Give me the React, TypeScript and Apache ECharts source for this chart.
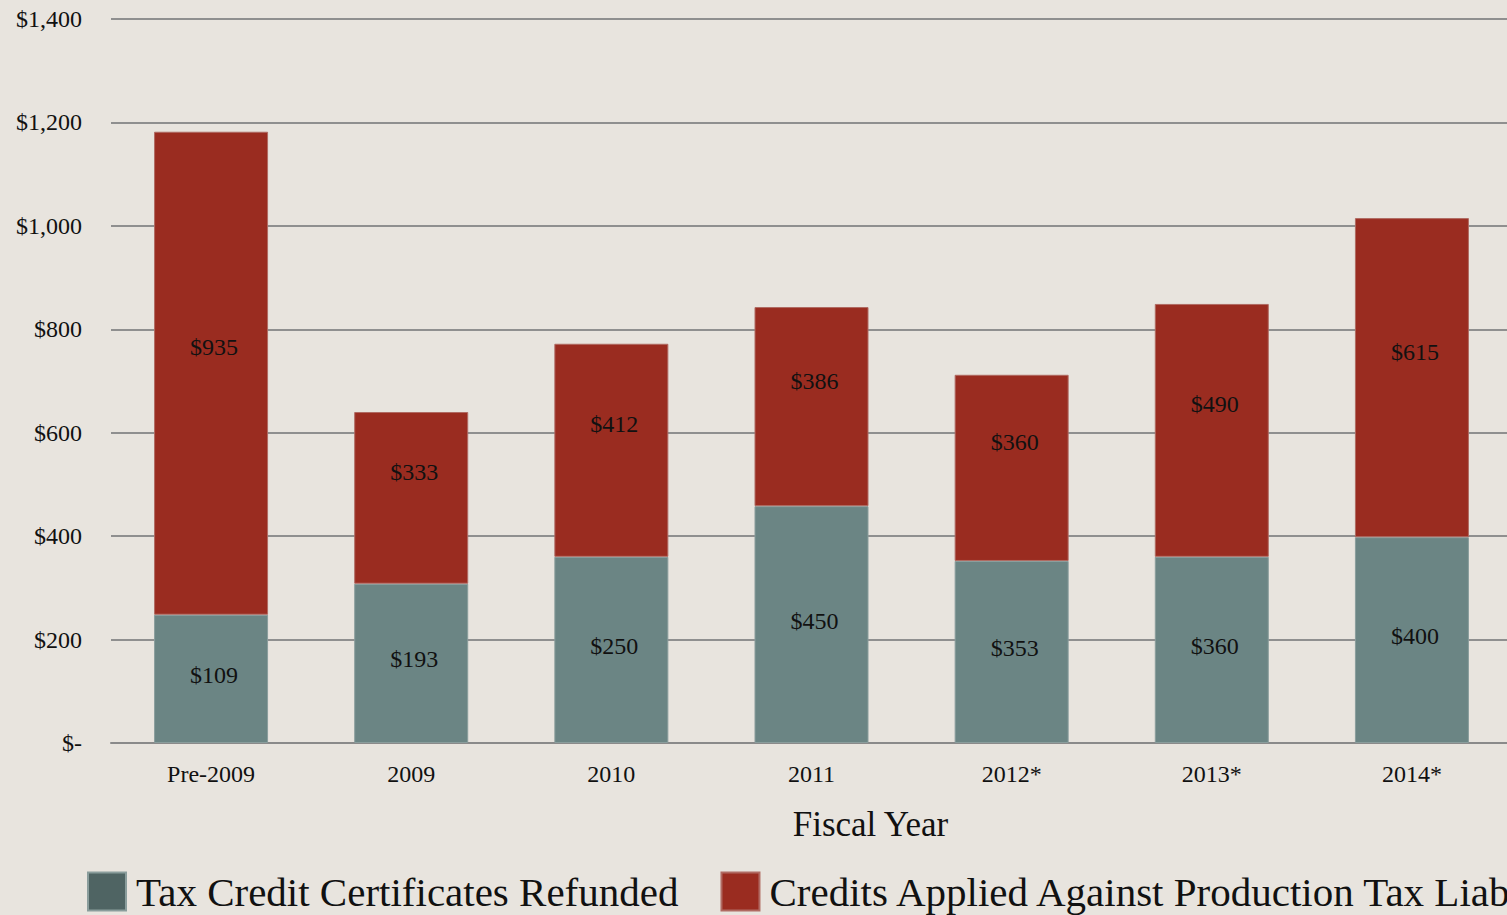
import React, { useEffect, useRef } from "react";
import * as echarts from "echarts";

const categories = ["Pre-2009", "2009", "2010", "2011", "2012*", "2013*", "2014*"];
// bar heights as drawn in the picture (millions $)
const refundedHeights = [248, 308, 360, 458, 352, 360, 398];
const appliedHeights = [934, 332, 412, 385, 360, 489, 617];
// printed labels
const refundedLabels = [109, 193, 250, 450, 353, 360, 400];
const appliedLabels = [935, 333, 412, 386, 360, 490, 615];
const yTicks = [0, 200, 400, 600, 800, 1000, 1200, 1400];

const FONT = "'Liberation Serif', 'DejaVu Serif', serif";
const TEAL = "#6b8584";
const TEAL_LEGEND = "#4f6463";
const RED = "#9a2c20";

function fmtMoney(v: number) {
  if (v === 0) return "$-";
  return "$" + v.toLocaleString("en-US");
}

export default function App() {
  const ref = useRef<HTMLDivElement>(null);
  useEffect(() => {
    if (!ref.current) return;
    const chart = echarts.init(ref.current, undefined, { renderer: "svg" });
    chart.setOption({
      animation: false,
      backgroundColor: "#e8e4de",
      textStyle: { fontFamily: FONT },
      grid: { left: 111, top: 19, width: 1401, height: 724 },
      legend: {
        left: 87,
        top: 871,
        width: 3000,
        padding: 0,
        itemWidth: 38,
        itemHeight: 38,
        itemGap: 42,
        icon: "rect",
        textStyle: { fontFamily: FONT, fontSize: 41, color: "#111", padding: [0, 0, 0, 5] },
        data: [
          { name: "Tax Credit Certificates Refunded", itemStyle: { color: TEAL_LEGEND } },
          { name: "Credits Applied Against Production Tax Liability", itemStyle: { color: RED } },
        ],
      },
      xAxis: {
        type: "category",
        data: categories,
        name: "Fiscal Year",
        nameLocation: "middle",
        nameGap: 64,
        nameTextStyle: { fontFamily: FONT, fontSize: 35, color: "#111", padding: [0, 0, 0, 118] },
        axisLine: { lineStyle: { color: "#8a8a8a", width: 2 } },
        axisTick: { show: false },
        axisLabel: { fontFamily: FONT, fontSize: 24, color: "#111", margin: 19 },
      },
      yAxis: {
        type: "value",
        min: yTicks[0],
        max: yTicks[yTicks.length - 1],
        interval: 200,
        axisLine: { show: false },
        axisTick: { show: false },
        splitLine: { lineStyle: { color: "#8f8f8f", width: 2 } },
        axisLabel: {
          fontFamily: FONT,
          fontSize: 24,
          color: "#111",
          margin: 29,
          formatter: (v: number) => fmtMoney(v),
        },
      },
      series: [
        {
          name: "Tax Credit Certificates Refunded",
          type: "bar",
          stack: "total",
          barWidth: 114,
          data: refundedHeights,
          itemStyle: { color: TEAL, borderColor: "#8a9d9c", borderWidth: 1 },
          label: {
            show: true,
            position: "inside",
            offset: [3, -4],
            fontFamily: FONT,
            fontSize: 24,
            color: "#111",
            formatter: (p: any) => "$" + refundedLabels[p.dataIndex],
          },
        },
        {
          name: "Credits Applied Against Production Tax Liability",
          type: "bar",
          stack: "total",
          barWidth: 114,
          data: appliedHeights,
          itemStyle: { color: RED, borderColor: "#b06a62", borderWidth: 1 },
          label: {
            show: true,
            position: "inside",
            offset: [3, -26],
            fontFamily: FONT,
            fontSize: 24,
            color: "#111",
            formatter: (p: any) => "$" + appliedLabels[p.dataIndex],
          },
        },
      ],
    });
    return () => chart.dispose();
  }, []);
  return (
    <div
      ref={ref}
      style={{ position: "fixed", left: 0, top: 0, width: 1520, height: 915 }}
    />
  );
}
